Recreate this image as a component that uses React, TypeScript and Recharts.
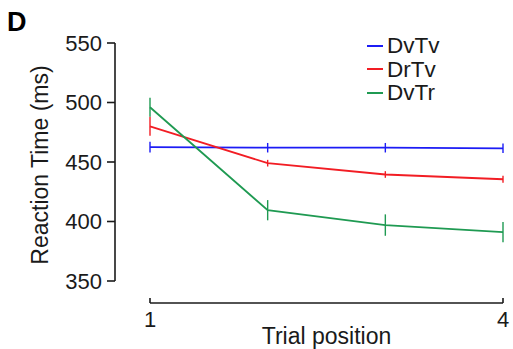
import { LineChart, Line, XAxis, YAxis, ErrorBar, Legend } from 'recharts';

// values
const trials = [1, 2, 3, 4];
const dvtv = [462.5, 462, 462, 461.5];
const dvtvErr = [4.5, 4, 4, 4];
const drtv = [480, 449, 439.5, 435.5];
const drtvErr = [8, 2.8, 2.8, 3];
const dvtr = [496, 409.5, 397, 391];
const dvtrErr = [8, 8.5, 9, 8.5];

const yTicks = [350, 400, 450, 500, 550];
const xTicks = [1, 4];

const series = [
  { key: 'dvtv', name: 'DvTv', color: '#1c1cf5' },
  { key: 'drtv', name: 'DrTv', color: '#f21d24' },
  { key: 'dvtr', name: 'DvTr', color: '#1f9a52' },
];

const data = trials.map((t, i) => ({
  trial: t,
  dvtv: dvtv[i],
  dvtvErr: dvtvErr[i],
  drtv: drtv[i],
  drtvErr: drtvErr[i],
  dvtr: dvtr[i],
  dvtrErr: dvtrErr[i],
}));

const W = 513;
const H = 349;
const PLOT_TOP = 43;
const PLOT_BOTTOM = 281;
const PLOT_LEFT = 150;
const PLOT_RIGHT = 503;
const Y_GAP = 35; // y axis sits left of the data area
const X_GAP = 22; // x axis sits below the data area
const FONT = '"Liberation Sans", Arial, sans-serif';
const INK = '#1a1a1a';

const YTick = ({ y, payload, index }: any) => {
  const ax = PLOT_LEFT - Y_GAP;
  return (
    <g>
      {index === 0 && (
        <line x1={ax} x2={ax} y1={PLOT_TOP} y2={PLOT_BOTTOM} stroke={INK} strokeWidth={1.6} />
      )}
      <line x1={ax - 8} x2={ax} y1={y} y2={y} stroke={INK} strokeWidth={1.6} />
      <text x={ax - 13} y={y} dy="0.36em" textAnchor="end" fontSize={22} fontFamily={FONT} fill={INK}>
        {payload.value}
      </text>
    </g>
  );
};

const XTick = ({ x, payload, index }: any) => {
  const ay = PLOT_BOTTOM + X_GAP;
  return (
    <g>
      {index === 0 && (
        <line x1={PLOT_LEFT} x2={PLOT_RIGHT} y1={ay} y2={ay} stroke={INK} strokeWidth={1.6} />
      )}
      <line x1={x} x2={x} y1={ay} y2={ay - 5} stroke={INK} strokeWidth={1.6} />
      <text x={x} y={ay + 24} textAnchor="middle" fontSize={22} fontFamily={FONT} fill={INK}>
        {payload.value}
      </text>
    </g>
  );
};

const YTitle = () => (
  <text
    transform={`translate(48, ${(PLOT_TOP + PLOT_BOTTOM) / 2 + 3}) rotate(-90)`}
    textAnchor="middle"
    fontSize={23}
    fontFamily={FONT}
    fill={INK}
  >
    Reaction Time (ms)
  </text>
);

const renderLegend = () => (
  <div style={{ fontFamily: FONT, fontSize: 22.5, color: INK }}>
    {series.map((s) => (
      <div key={s.key} style={{ display: 'flex', alignItems: 'center', height: 23.5, lineHeight: '23.5px' }}>
        <span style={{ display: 'inline-block', width: 16, height: 2, background: s.color, marginRight: 4 }} />
        <span>{s.name}</span>
      </div>
    ))}
  </div>
);

export default function App() {
  return (
    <div style={{ position: 'absolute', left: 0, top: 0, width: W, height: H, background: '#fff' }}>
      <div
        style={{
          position: 'absolute',
          left: 7,
          top: 7,
          fontFamily: FONT,
          fontWeight: 'bold',
          fontSize: 27,
          lineHeight: '30px',
          color: '#000',
          zIndex: 2,
        }}
      >
        D
      </div>
      <LineChart
        width={W}
        height={H}
        data={data}
        margin={{ top: PLOT_TOP, right: W - PLOT_RIGHT, bottom: 0, left: 0 }}
      >
        <XAxis
          type="number"
          dataKey="trial"
          domain={[1, 4]}
          ticks={xTicks}
          axisLine={false}
          tickLine={false}
          tickSize={0}
          tickMargin={0}
          height={H - PLOT_BOTTOM}
          tick={<XTick />}
          label={{ value: 'Trial position', position: 'insideBottom', offset: 5, fontSize: 23, fontFamily: FONT, fill: INK }}
        />
        <YAxis
          type="number"
          domain={[350, 550]}
          ticks={yTicks}
          axisLine={false}
          tickLine={false}
          tickSize={0}
          tickMargin={0}
          width={PLOT_LEFT}
          tick={<YTick />}
          label={{ content: () => <YTitle /> }}
        />
        <Legend
          content={renderLegend}
          layout="horizontal"
          verticalAlign="middle"
          align="center"
          wrapperStyle={{ top: 34, left: 367, width: 120 }}
        />
        {series.map((s) => (
          <Line
            key={s.key}
            type="linear"
            dataKey={s.key}
            name={s.name}
            stroke={s.color}
            strokeWidth={1.8}
            dot={false}
            isAnimationActive={false}
          >
            <ErrorBar dataKey={`${s.key}Err`} width={0} stroke={s.color} strokeWidth={1.4} direction="y" />
          </Line>
        ))}
      </LineChart>
    </div>
  );
}
